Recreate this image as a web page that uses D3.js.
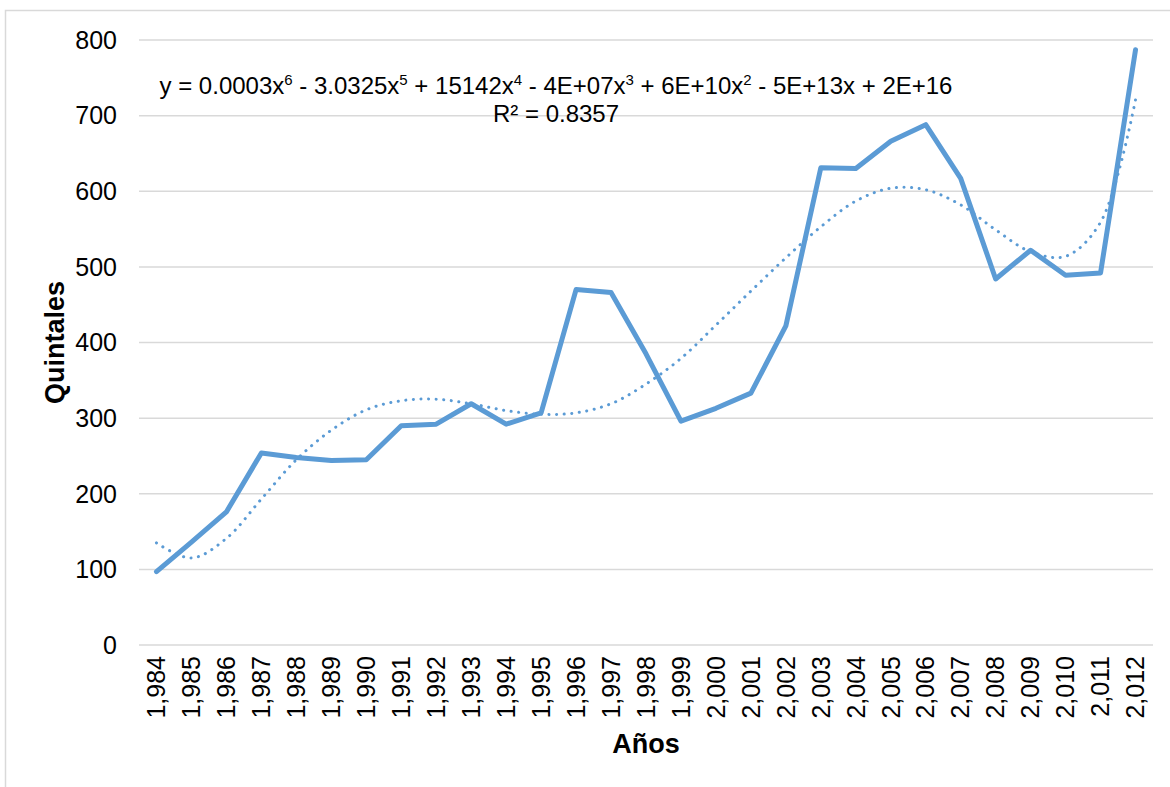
<!DOCTYPE html>
<html>
<head>
<meta charset="utf-8">
<script src="https://cdn.jsdelivr.net/npm/d3@7"></script>
<style>
    body { margin: 0; background: #fff; }
    text { font-family: "Liberation Sans", Arial, sans-serif; fill: #000; }
</style>
</head>
<body>
<div id="chart"></div>
<script>
const years = [1984, 1985, 1986, 1987, 1988, 1989, 1990, 1991, 1992, 1993, 1994, 1995, 1996, 1997, 1998,
    1999, 2000, 2001, 2002, 2003, 2004, 2005, 2006, 2007, 2008, 2009, 2010, 2011, 2012];

// Quintales por año
const quintales = [97, 136, 176, 254, 248, 244, 245, 290, 292, 319, 292, 307, 470, 466, 385,
    296, 313, 333, 422, 631, 630, 666, 688, 617, 484, 522, 489, 492, 787];

// Linea de tendencia polinómica
const tendencia = [135, 115, 141, 193, 245, 284, 311, 323, 325, 319, 310, 305, 307, 319, 345,
    379, 423, 468, 512, 553, 587, 604, 602, 582, 549, 520, 514, 559, 721];

const yTicks = [0, 100, 200, 300, 400, 500, 600, 700, 800];

const ecuacion = [["y = 0.0003x", "6"], [" - 3.0325x", "5"], [" + 15142x", "4"], [" - 4E+07x", "3"],
    [" + 6E+10x", "2"], [" - 5E+13x + 2E+16", ""]];

const width = 1170,
    height = 787,
    plot = { left: 139, right: 1153, top: 40, bottom: 645 },
    color = "#5B9BD5",
    grid = "#D9D9D9";

const svg = d3.select("#chart")
    .append("svg")
    .attr("width", width)
    .attr("height", height);

// Marco del gráfico
svg.append("rect")
    .attr("x", 5.5)
    .attr("y", 10.5)
    .attr("width", width + 20)
    .attr("height", height + 20)
    .style("fill", "none")
    .style("stroke", grid)
    .style("stroke-width", 1.5);

const x = d3.scalePoint()
    .domain(years)
    .range([plot.left, plot.right])
    .padding(0.5);

const y = d3.scaleLinear()
    .domain([0, 800])
    .range([plot.bottom, plot.top]);

// Lineas de la cuadricula
svg.append("g")
    .selectAll("line")
    .data(yTicks)
    .enter()
    .append("line")
    .attr("x1", plot.left)
    .attr("x2", plot.right)
    .attr("y1", d => y(d))
    .attr("y2", d => y(d))
    .style("stroke", grid)
    .style("stroke-width", 1.5);

svg.append("g")
    .selectAll("text")
    .data(yTicks)
    .enter()
    .append("text")
    .attr("x", 117)
    .attr("y", d => y(d))
    .attr("dy", "0.35em")
    .attr("text-anchor", "end")
    .style("font-size", "25px")
    .text(d => d);

const fmt = d3.format(",");

svg.append("g")
    .selectAll("text")
    .data(years)
    .enter()
    .append("text")
    .attr("transform", d => "translate(" + x(d) + ",656) rotate(-90)")
    .attr("dy", "0.35em")
    .attr("text-anchor", "end")
    .style("font-size", "25px")
    .text(d => fmt(d));

// Titulos de los ejes
svg.append("text")
    .attr("transform", "translate(64," + (plot.top + plot.bottom) / 2 + ") rotate(-90)")
    .attr("text-anchor", "middle")
    .style("font-size", "27px")
    .style("font-weight", "bold")
    .text("Quintales");

svg.append("text")
    .attr("x", (plot.left + plot.right) / 2)
    .attr("y", 753)
    .attr("text-anchor", "middle")
    .style("font-size", "27px")
    .style("font-weight", "bold")
    .text("Años");

// Serie principal
const line = d3.line()
    .x((d, i) => x(years[i]))
    .y(d => y(d));

svg.append("path")
    .datum(quintales)
    .attr("d", line)
    .style("fill", "none")
    .style("stroke", color)
    .style("stroke-width", 5)
    .style("stroke-linejoin", "round")
    .style("stroke-linecap", "round");

// Tendencia punteada
svg.append("path")
    .datum(tendencia)
    .attr("d", line.curve(d3.curveCatmullRom.alpha(0.5)))
    .style("fill", "none")
    .style("stroke", color)
    .style("stroke-width", 3)
    .style("stroke-dasharray", "0.1 7.5")
    .style("stroke-linecap", "round");

// Ecuación de la tendencia
const eq = svg.append("text")
    .attr("x", 556)
    .attr("y", 94)
    .attr("text-anchor", "middle")
    .style("font-size", "24px");

ecuacion.forEach((p, i) => {
    eq.append("tspan")
        .attr("dy", i > 0 ? 9 : 0)
        .text(p[0]);
    if (p[1]) eq.append("tspan")
        .attr("dy", -9)
        .style("font-size", "15px")
        .text(p[1]);
});

svg.append("text")
    .attr("x", 556)
    .attr("y", 122)
    .attr("text-anchor", "middle")
    .style("font-size", "24px")
    .text("R² = 0.8357");
</script>
</body>
</html>
